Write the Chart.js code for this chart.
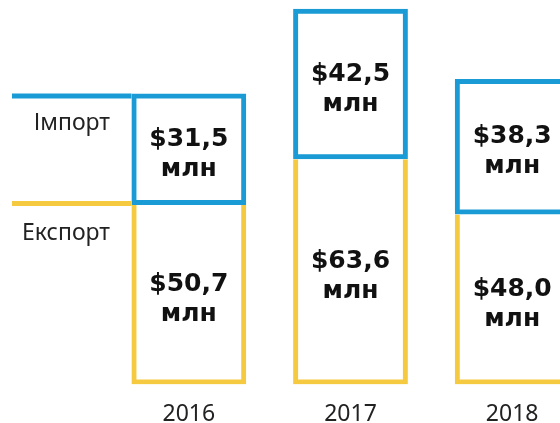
<!DOCTYPE html>
<html>
<head>
<meta charset="utf-8">
<script src="https://cdn.jsdelivr.net/npm/chart.js@4/dist/chart.umd.min.js"></script>
<style>
  html, body { margin: 0; padding: 0; background: #fff; overflow: hidden; }
  #wrap { width: 560px; height: 423px; overflow: hidden; position: relative; }
  canvas { display: block; }
</style>
</head>
<body>
<div id="wrap"><canvas id="chart" width="620" height="459" style="width:620px;height:459px"></canvas></div>
<script>
const years = ["2016", "2017", "2018"];
const importValues = [31.5, 42.5, 38.3];
const exportValues = [50.7, 63.6, 48.0];
const seriesNames = ["Експорт", "Імпорт"];

const BLUE = "#1b9bd5";
const YELLOW = "#f5c940";

function money(v){
  return "$" + v.toFixed(1).replace(".", ",");
}

// numbers inside each box
const boxLabels = {
  id: "boxLabels",
  afterDatasetsDraw(chart){
    const ctx = chart.ctx;
    ctx.save();
    ctx.fillStyle = "#111";
    ctx.textAlign = "center";
    ctx.textBaseline = "middle";
    chart.data.datasets.forEach((ds, i)=>{
      chart.getDatasetMeta(i).data.forEach((bar, j)=>{
        const p = bar.getProps(["x", "y", "base"], true);
        const cy = (p.y + p.base) / 2;
        ctx.font = "bold 25px 'DejaVu Sans'";
        ctx.fillText(money(ds.data[j]), p.x, cy - 10);
        ctx.fillText("млн", p.x, cy + 20);
      });
    });
    ctx.restore();
  }
};

// the two lines and names on the left, level with the first year's boxes
const sideLegend = {
  id: "sideLegend",
  afterDatasetsDraw(chart){
    const ctx = chart.ctx;
    const y = chart.scales.y;
    const first = chart.getDatasetMeta(0).data[0];
    const left = first.x - first.width / 2;
    const expTop = y.getPixelForValue(exportValues[0]);
    const impTop = y.getPixelForValue(exportValues[0] + importValues[0]);
    ctx.save();
    ctx.lineWidth = 5;
    ctx.strokeStyle = BLUE;
    ctx.beginPath();
    ctx.moveTo(12, impTop + 2.5);
    ctx.lineTo(left, impTop + 2.5);
    ctx.stroke();
    ctx.strokeStyle = YELLOW;
    ctx.beginPath();
    ctx.moveTo(12, expTop - 1.5);
    ctx.lineTo(left, expTop - 1.5);
    ctx.stroke();
    ctx.fillStyle = "#222";
    ctx.font = "23px 'Noto Sans'";
    ctx.textAlign = "right";
    ctx.textBaseline = "middle";
    ctx.fillText(seriesNames[1], 110, impTop + 30);
    ctx.fillText(seriesNames[0], 110, expTop + 29);
    ctx.restore();
  }
};

new Chart(document.getElementById("chart"), {
  type: "bar",
  data: {
    labels: years,
    datasets: [
      {
        label: seriesNames[0],
        data: exportValues,
        backgroundColor: "rgba(0,0,0,0)",
        borderColor: YELLOW,
        borderWidth: 5,
        borderSkipped: "top"
      },
      {
        label: seriesNames[1],
        data: importValues,
        backgroundColor: "rgba(0,0,0,0)",
        borderColor: BLUE,
        borderWidth: 5,
        borderSkipped: false
      }
    ]
  },
  options: {
    responsive: false,
    animation: false,
    devicePixelRatio: 1,
    layout: { padding: { left: 108, right: 27, top: 0, bottom: 15 } },
    datasets: { bar: { barPercentage: 0.71, categoryPercentage: 1 } },
    plugins: { legend: { display: false }, tooltip: { enabled: false } },
    scales: {
      x: {
        stacked: true,
        grid: { display: false, drawTicks: false },
        border: { display: false },
        ticks: { color: "#222", font: { family: "Noto Sans", size: 23 }, padding: 16 }
      },
      y: {
        stacked: true,
        display: false,
        min: 0,
        max: 108.6
      }
    }
  },
  plugins: [boxLabels, sideLegend]
});
</script>
</body>
</html>
